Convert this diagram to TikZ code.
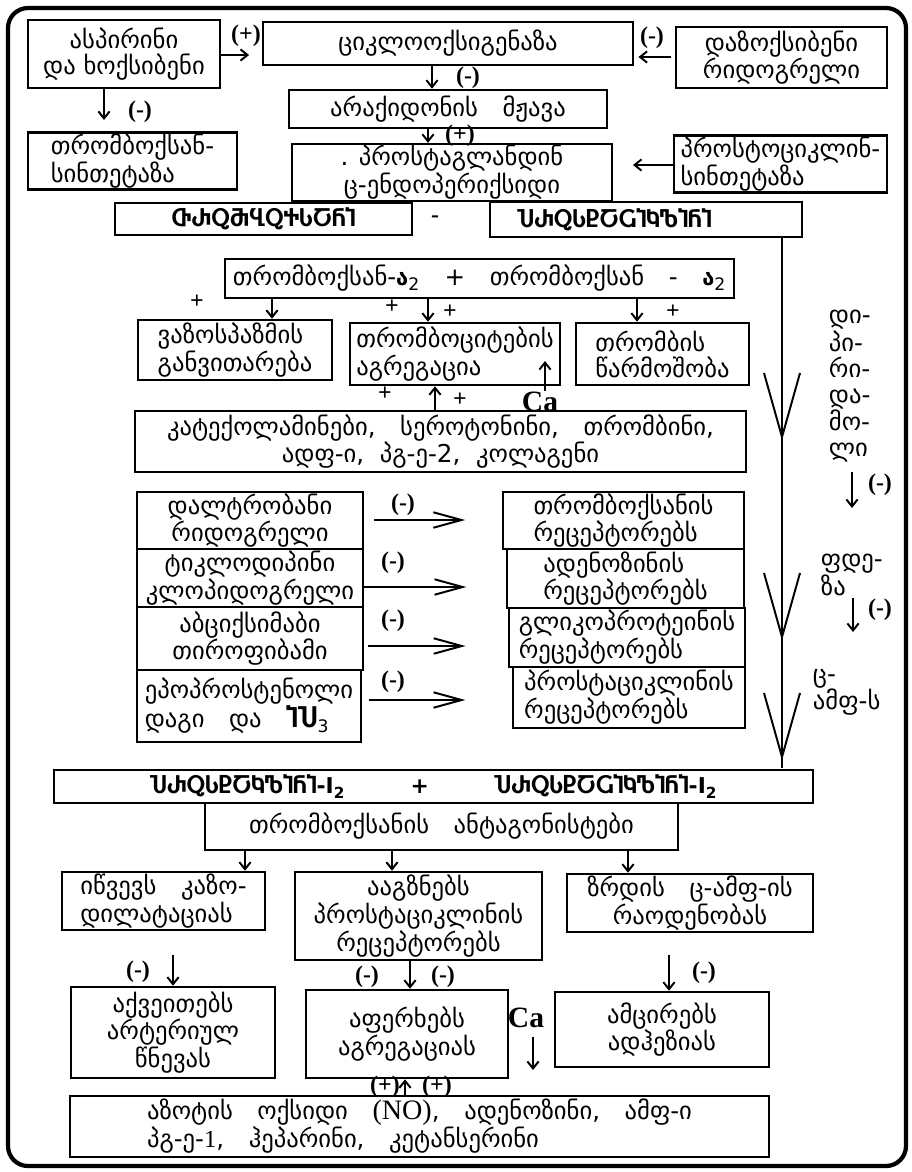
\documentclass[tikz,border=0pt]{standalone}
\usepackage{fontspec}
\setmainfont{DejaVu Sans}
\newfontfamily\latin{Liberation Serif}
\usetikzlibrary{arrows.meta}
\newcommand\gtxt{\fontsize{17.5}{18.5}\selectfont}
\newcommand\gbig{\bfseries\fontsize{15.5}{18}\selectfont}
\newcommand\lsign{\latin\bfseries\fontsize{17}{17}\selectfont}

\begin{document}
\begin{tikzpicture}[x=0.025cm, y=-0.025cm, line width=1.4pt,
  box/.style 2 args={draw, line width=1.8pt, minimum width=#1*0.025cm,
    minimum height=#2*0.025cm, inner sep=1pt, align=center, font=\gtxt},
  bigbox/.style 2 args={box={#1}{#2}, font=\gbig},
  sign/.style={inner sep=0pt, font=\lsign},
  side/.style={inner sep=0pt, align=left, font=\gtxt},
  arr/.style={-{Straight Barb[length=5pt,width=8pt]}},
  oarr/.style={-{Straight Barb[length=20pt,width=11pt]}}]
  \useasboundingbox (0,0) rectangle (912,1172);
  % frame
  \draw[line width=3pt, rounded corners=0.5cm] (8,8) rectangle (906,1166);

  % top: cyclooxygenase chain
  \node[box={192}{68}] (asp) at (124,54) {ასპირინი\\და ხოქსიბენი};
  \node[box={370}{43}] (cox) at (448,43.5) {ციკლოოქსიგენაზა};
  \node[box={211}{61}] (daz) at (781.5,57.5) {დაზოქსიბენი\\რიდოგრელი};
  \node[box={318}{38}] (arach) at (448,109) {არაქიდონის\quad მჟავა};
  \node[box={209}{56}, align=left] (txs) at (132.5,161) {თრომბოქსან-\\სინთეტაზა};
  \node[box={320}{55}] (pgh) at (452,172.5) {. პროსტაგლანდინ\\ც-ენდოპერიქსიდი};
  \node[box={213}{52}, align=left] (pcs) at (780.5,164) {პროსტოციკლინ-\\სინთეტაზა};
  \draw[arr, shorten >=9pt] (asp.east |- 0,55) -- (cox.west |- 0,55);
  \node[sign] (pl1) at (246,36) {(+)};
  \draw[arr, shorten >=8pt] (asp.south -| 104,0) -- (txs.north -| 104,0);
  \node[sign] (mi1) at (140,112) {(-)};
  \draw[arr] (cox.south -| 432,0) -- (arach.north -| 432,0);
  \node[sign] (mi2) at (468,78) {(-)};
  \draw[arr, shorten <=3pt, shorten >=3pt] (daz.west |- 0,57) -- (cox.east |- 0,57);
  \node[sign] (mi3) at (652,38) {(-)};
  \draw[arr] (arach.south -| 428,0) -- (pgh.north -| 428,0);
  \node[sign] (pl2) at (460,136) {(+)};
  \draw[arr, shorten >=14pt] (pcs.west |- 0,165) -- (pgh.east |- 0,165);

  % thromboxane - prostacyclin
  \node[bigbox={297}{32}] (txa) at (263.5,219) {ႧႰႭႫႡႭႵႱႠႬႨ};
  \node[sign] (dash) at (435,219) {-};
  \node[bigbox={312}{35}] (pgi) at (646,219.5) {ႮႰႭႱႲႠႺႨႩႪႨႬႨ\hspace*{45pt}};

  % thromboxane A2 and its effects
  \node[box={509}{39}] (a2) at (479.5,278.5)
    {თრომბოქსან-{\gbig ა}\textsubscript{2}\quad +\quad თრომბოქსან\quad -\quad {\gbig ა}\textsubscript{2}};
  \node[box={194}{60}, align=left] (vaso) at (235,350) {ვაზოსპაზმის\\განვითარება};
  \node[box={210}{62}, align=left] (aggr) at (455,354) {თრომბოციტების\\აგრეგაცია};
  \node[box={173}{62}, align=left] (thr) at (662.5,354) {თრომბის\\წარმოშობა};
  \node[box={611}{61}] (cat) at (440.5,441.5)
    {კატექოლამინები,\quad სეროტონინი,\quad თრომბინი,\\ადფ-ი,\ \ პგ-ე-2,\ \ კოლაგენი};
  \node[sign] (s1) at (197,302) {+};
  \node[sign] (s2) at (392,307) {+};
  \node[sign] (s3) at (450,312) {+};
  \node[sign] (s4) at (673,312) {+};
  \node[sign] (s5) at (385,394) {+};
  \node[sign] (s6) at (460,400) {+};
  \node[sign, font=\latin\bfseries\fontsize{21}{21}\selectfont] (ca1) at (540,402) {Ca};
  \coordinate (ca1t) at (545,361);
  \draw[arr] (a2.south -| 272,0) -- (vaso.north -| 272,0);
  \draw[arr] (a2.south -| 428,0) -- (aggr.north -| 428,0);
  \draw[arr] (a2.south -| 637,0) -- (thr.north -| 637,0);
  \draw[arr] (cat.north -| 435,0) -- (aggr.south -| 435,0);
  \draw[arr] (ca1.north -| ca1t) -- (ca1t);

  % blockers and receptors
  \node[box={226}{57}] (d1) at (250,520.5) {დალტრობანი\\რიდოგრელი};
  \node[box={226}{58}] (d2) at (250,578) {ტიკლოდიპინი\\კლოპიდოგრელი};
  \node[box={226}{63}] (d3) at (250,638.5) {აბციქსიმაბი\\თიროფიბამი};
  \node[box={224}{72}, align=left] (d4) at (249,706)
    {ეპოპროსტენოლი\\დაგი\quad და\quad {\gbig\fontsize{18}{18}\selectfont ႨႮ}\textsubscript{3}};
  \node[box={241}{57}, align=left] (r1) at (623.5,520.5) {თრომბოქსანის\\რეცეპტორებს};
  \node[box={237}{59}, align=left] (r2) at (625.5,578.5) {ადენოზინის\\რეცეპტორებს};
  \node[box={236}{59}, align=left] (r3) at (627,637.5) {გლიკოპროტეინის\\რეცეპტორებს};
  \node[box={232}{61}, align=left] (r4) at (629,697.5) {პროსტაციკლინის\\რეცეპტორებს};
  \draw[oarr, shorten <=7pt, shorten >=26pt] (d1.east |- 0,520) -- (r1.west |- 0,520);
  \draw[oarr, shorten >=28pt] (d2.east |- 0,587) -- (r2.west |- 0,587);
  \draw[oarr, shorten <=3pt, shorten >=30pt] (d3.east |- 0,646) -- (r3.west |- 0,646);
  \draw[oarr, shorten <=5pt, shorten >=33pt] (d4.east |- 0,700) -- (r4.west |- 0,700);
  \node[sign] (m1) at (403,505) {(-)};
  \node[sign] (m2) at (393,563) {(-)};
  \node[sign] (m3) at (393,621) {(-)};
  \node[sign] (m4) at (393,682) {(-)};

  % right side: dipyridamole path
  \draw (pgi.south -| 782,0) -- (782,768);
  \foreach \t in {437,637,757}
    \draw (764,{\t-64}) -- (782,\t) -- (800,{\t-64});
  \node[side, anchor=north west] (dipi) at (828,309) {დი-\\პი-\\რი-\\და-\\მო-\\ლი};
  \coordinate (dp1) at (852,472);
  \coordinate (dp2) at (852,508);
  \draw[arr] (dp1) -- (dp2);
  \node[sign] (m5) at (880,485) {(-)};
  \node[side, anchor=north west] (pde) at (820,553) {ფდე-\\ზა};
  \coordinate (pd1) at (853,598);
  \coordinate (pd2) at (853,632);
  \draw[arr] (pd1) -- (pd2);
  \node[sign] (m6) at (880,610) {(-)};
  \node[side, anchor=north west] (camp) at (812,668) {ც-\\ამფ-ს};

  % prostacyclin I2 and antagonists
  \node[bigbox={759}{33}] (pgi2) at (433.5,786.5)
    {ႮႰႭႱႲႠႩႪႨႬႨ-I\textsubscript{2}\hspace{3em}+\hspace{3em}ႮႰႭႱႲႠႺႨႩႪႨႬႨ-I\textsubscript{2}};
  \node[box={473}{47}] (ant) at (441.5,826.5) {თრომბოქსანის\quad ანტაგონისტები};
  \node[box={203}{58}, align=left] (vdil) at (163.5,901) {იწვევს\quad კაზო-\\დილატაციას};
  \node[box={247}{88}] (stim) at (418.5,916) {ააგზნებს\\პროსტაციკლინის\\რეცეპტორებს};
  \node[box={246}{58}] (incr) at (690,903) {ზრდის\quad ც-ამფ-ის\\რაოდენობას};
  \draw[arr] (ant.south -| 245,0) -- (vdil.north -| 245,0);
  \draw[arr] (ant.south -| 392,0) -- (stim.north -| 392,0);
  \draw[arr] (ant.south -| 628,0) -- (incr.north -| 628,0);

  % bottom effects
  \node[box={204}{91}] (bp) at (173,1032.5) {აქვეითებს\\არტერიულ\\წნევას};
  \node[box={202}{88}] (inh) at (407,1034) {აფერხებს\\აგრეგაციას};
  \node[box={214}{75}] (adh) at (662,1029.5) {ამცირებს\\ადჰეზიას};
  \node[box={699}{61}, align=left] (no) at (419.5,1126.5)
    {აზოტის\quad ოქსიდი\quad {\latin\fontsize{20}{18}\selectfont (NO)},\quad ადენოზინი,\quad ამფ-ი\\პგ-ე-{\latin 1},\quad ჰეპარინი,\quad კეტანსერინი};
  \coordinate (v1) at (173,955);
  \draw[arr] (v1) -- (bp.north -| v1);
  \node[sign] (m7) at (138,972) {(-)};
  \draw[arr] (stim.south -| 410,0) -- (inh.north -| 410,0);
  \node[sign] (m8) at (367,977) {(-)};
  \node[sign] (m9) at (443,977) {(-)};
  \coordinate (i1) at (669,955);
  \draw[arr] (i1) -- (adh.north -| i1);
  \node[sign] (m10) at (704,973) {(-)};
  \node[sign, font=\latin\bfseries\fontsize{21}{21}\selectfont] (ca2) at (526,1018) {Ca};
  \coordinate (ca2e) at (533,1070);
  \draw[arr, shorten <=6pt] (ca2.south -| ca2e) -- (ca2e);
  \draw[arr] (no.north -| 405,0) -- (inh.south -| 405,0);
  \node[sign] (p3) at (385,1087) {(+)};
  \node[sign] (p4) at (437,1087) {(+)};
\end{tikzpicture}
\end{document}
